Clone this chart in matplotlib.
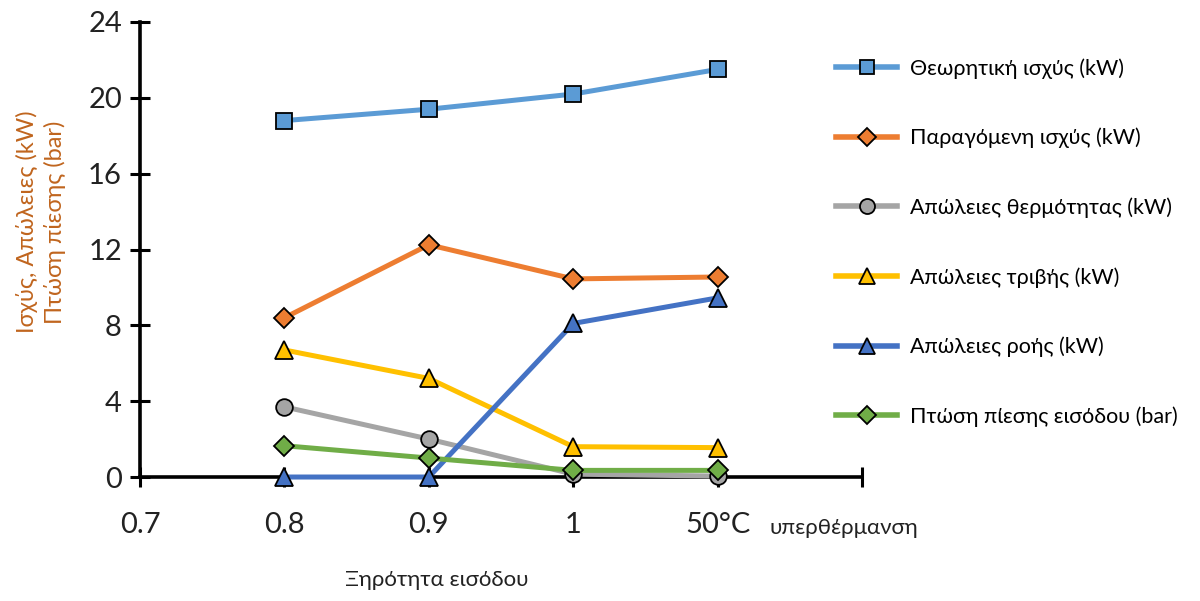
import numpy as np
import matplotlib.pyplot as plt
from matplotlib.lines import Line2D


# =========================
# Data
# =========================

x_labels = ["0.7", "0.8", "0.9", "1", "50°C", ""]
x_pos = np.arange(len(x_labels))
data_pos = x_pos[1:5]

theoretical_power = [18.8, 19.4, 20.2, 21.5]
produced_power = [8.4, 12.25, 10.45, 10.55]
heat_losses = [3.7, 2.0, 0.15, 0.05]
friction_losses = [6.7, 5.2, 1.6, 1.55]
flow_losses = [0.0, 0.0, 8.1, 9.45]
inlet_pressure_drop = [1.65, 1.0, 0.35, 0.35]

series_labels = [
    "Θεωρητική ισχύς (kW)",
    "Παραγόμενη ισχύς (kW)",
    "Απώλειες θερμότητας (kW)",
    "Απώλειες τριβής (kW)",
    "Απώλειες ροής (kW)",
    "Πτώση πίεσης εισόδου (bar)",
]

y_ticks = [0, 4, 8, 12, 16, 20, 24]


# =========================
# Styles
# =========================

series_styles = [
    ("#5B9BD5", "s", 11),
    ("#ED7D31", "D", 10),
    ("#A5A5A5", "o", 12),
    ("#FFC000", "^", 13),
    ("#4472C4", "^", 13),
    ("#70AD47", "D", 10),
]

series_values = [
    theoretical_power,
    produced_power,
    heat_losses,
    friction_losses,
    flow_losses,
    inlet_pressure_drop,
]

font_main = ["Lato", "DejaVu Sans"]
label_color = "#C0651E"
text_color = "#222222"


# =========================
# Plot
# =========================

fig = plt.figure(figsize=(12, 6.01), dpi=100)
ax = fig.add_axes([0.1167, 0.2063, 0.6017, 0.7571])

for values, label, (color, marker, msize) in zip(series_values, series_labels, series_styles):
    ax.plot(
        data_pos,
        values,
        color=color,
        linewidth=3.6,
        marker=marker,
        markersize=msize,
        markerfacecolor=color,
        markeredgecolor="black",
        markeredgewidth=1.3,
        label=label,
        clip_on=False,
        zorder=3,
    )

ax.set_xlim(0, 5)
ax.set_ylim(0, 24)

ax.set_xticks(x_pos)
ax.set_xticklabels(x_labels, family=font_main, fontsize=21, color=text_color)
ax.set_yticks(y_ticks)
ax.set_yticklabels([str(v) for v in y_ticks], family=font_main, fontsize=21, color=text_color)

for side in ["top", "right"]:
    ax.spines[side].set_visible(False)
for side in ["left", "bottom"]:
    ax.spines[side].set_linewidth(2.6)
    ax.spines[side].set_zorder(2)

ax.tick_params(axis="both", direction="inout", length=14, width=2.2, colors="black")
ax.tick_params(axis="x", pad=18.5, labelcolor=text_color)
ax.tick_params(axis="y", pad=6, labelcolor=text_color)

# Extra text next to the superheat tick
ax.text(
    4.36,
    -0.111,
    "υπερθέρμανση",
    transform=ax.get_xaxis_transform(),
    family=font_main,
    fontsize=16,
    color=text_color,
    ha="left",
    va="center",
)

# Axis titles
fig.text(
    437 / 1200,
    1 - 580 / 601,
    "Ξηρότητα εισόδου",
    family=font_main,
    fontsize=16,
    color=text_color,
    ha="center",
    va="center",
)
fig.text(
    41 / 1200,
    1 - 222 / 601,
    "Ισχύς, Απώλειες (kW)\nΠτώση πίεσης (bar)",
    family=font_main,
    fontsize=17,
    color=label_color,
    rotation=90,
    ha="center",
    va="center",
    multialignment="center",
    linespacing=1.35,
)

legend_handles = [
    Line2D(
        [0],
        [0],
        color=color,
        linewidth=4,
        marker=marker,
        markersize=msize * 0.9,
        markerfacecolor=color,
        markeredgecolor="black",
        markeredgewidth=1.3,
    )
    for color, marker, msize in series_styles
]

fig.legend(
    legend_handles,
    series_labels,
    loc="upper left",
    bbox_to_anchor=(836 / 1200, 1 - 58 / 601),
    frameon=False,
    prop={"family": font_main, "size": 15.5},
    handlelength=2.85,
    handletextpad=0.6,
    labelspacing=2.28,
    borderaxespad=0,
    borderpad=0,
)

fig.savefig("out.png", dpi=100)
